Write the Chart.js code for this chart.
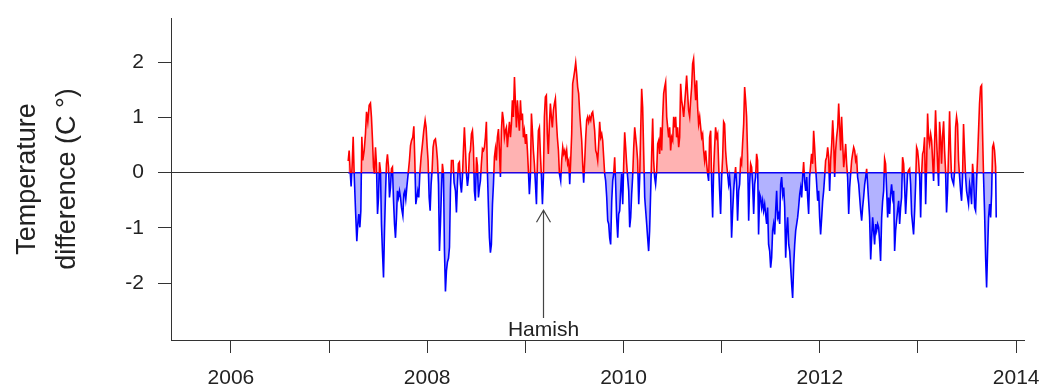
<!DOCTYPE html>
<html>
<head>
<meta charset="utf-8">
<title>Temperature difference</title>
<script src="https://cdn.jsdelivr.net/npm/chart.js@4/dist/chart.umd.min.js"></script>
<style>
  html, body { margin: 0; padding: 0; background: #ffffff; }
  #wrap { width: 1045px; height: 389px; }
  canvas { display: block; }
</style>
</head>
<body>
<div id="wrap"><canvas id="chart" width="1045" height="389"></canvas></div>
<script>
// Sample dates (decimal years) and temperature differences (°C)
const sampleYears = [
  2007.195, 2007.205, 2007.215, 2007.225, 2007.236, 2007.246, 2007.256, 2007.270, 2007.283, 2007.293,
  2007.303, 2007.314, 2007.324, 2007.334, 2007.344, 2007.358, 2007.371, 2007.382, 2007.395, 2007.409,
  2007.422, 2007.432, 2007.443, 2007.453, 2007.463, 2007.473, 2007.483, 2007.494, 2007.504, 2007.514,
  2007.524, 2007.534, 2007.544, 2007.555, 2007.565, 2007.575, 2007.585, 2007.595, 2007.606, 2007.616,
  2007.626, 2007.636, 2007.646, 2007.657, 2007.667, 2007.677, 2007.687, 2007.697, 2007.707, 2007.718,
  2007.728, 2007.738, 2007.752, 2007.762, 2007.772, 2007.782, 2007.792, 2007.806, 2007.819, 2007.830,
  2007.840, 2007.853, 2007.864, 2007.874, 2007.884, 2007.894, 2007.904, 2007.914, 2007.925, 2007.938,
  2007.952, 2007.965, 2007.979, 2007.989, 2007.999, 2008.009, 2008.020, 2008.030, 2008.040, 2008.050,
  2008.060, 2008.071, 2008.084, 2008.094, 2008.105, 2008.115, 2008.125, 2008.135, 2008.145, 2008.155,
  2008.166, 2008.176, 2008.186, 2008.196, 2008.206, 2008.217, 2008.227, 2008.237,
  2008.247, 2008.264, 2008.274, 2008.288, 2008.298, 2008.308, 2008.318, 2008.328, 2008.339, 2008.349,
  2008.359, 2008.369, 2008.379, 2008.390, 2008.400, 2008.410, 2008.420, 2008.430, 2008.440, 2008.451,
  2008.461, 2008.471, 2008.481, 2008.491, 2008.502, 2008.512, 2008.522, 2008.532, 2008.542, 2008.552,
  2008.563, 2008.573, 2008.583, 2008.593, 2008.603, 2008.614, 2008.624, 2008.634, 2008.644, 2008.654,
  2008.665, 2008.675, 2008.685, 2008.695, 2008.705, 2008.715, 2008.726, 2008.736, 2008.746, 2008.756,
  2008.766, 2008.777, 2008.787, 2008.797, 2008.807, 2008.817, 2008.827, 2008.838, 2008.848, 2008.858,
  2008.868, 2008.878, 2008.889, 2008.899, 2008.909, 2008.919, 2008.929, 2008.939, 2008.950, 2008.960,
  2008.970, 2008.980, 2008.990, 2009.001, 2009.011, 2009.021, 2009.031, 2009.041, 2009.051, 2009.062,
  2009.072, 2009.082, 2009.092, 2009.103, 2009.113, 2009.123, 2009.133, 2009.143, 2009.153, 2009.164,
  2009.174, 2009.184, 2009.194, 2009.204, 2009.214, 2009.224, 2009.234, 2009.245, 2009.255, 2009.265,
  2009.275, 2009.286, 2009.296, 2009.306, 2009.316, 2009.326, 2009.337, 2009.347,
  2009.360, 2009.370, 2009.381, 2009.391, 2009.401, 2009.411, 2009.421, 2009.431, 2009.442, 2009.452,
  2009.462, 2009.472, 2009.482, 2009.493, 2009.503, 2009.513, 2009.523, 2009.533, 2009.543, 2009.554,
  2009.564, 2009.574, 2009.584, 2009.594, 2009.605, 2009.615, 2009.625, 2009.635, 2009.645, 2009.655,
  2009.666, 2009.676, 2009.686, 2009.696, 2009.706, 2009.717, 2009.727, 2009.737, 2009.747, 2009.757,
  2009.768, 2009.778, 2009.788, 2009.798, 2009.808, 2009.818, 2009.829, 2009.839, 2009.849, 2009.859,
  2009.869, 2009.880, 2009.890, 2009.900, 2009.910, 2009.920, 2009.930, 2009.941, 2009.951, 2009.961,
  2009.971, 2009.981, 2009.992, 2010.002, 2010.012, 2010.022, 2010.032, 2010.042, 2010.053, 2010.063,
  2010.073, 2010.083, 2010.093, 2010.104, 2010.114, 2010.124, 2010.134, 2010.144, 2010.155, 2010.165,
  2010.175, 2010.185, 2010.195, 2010.205, 2010.216, 2010.226, 2010.236, 2010.246, 2010.256, 2010.266,
  2010.277, 2010.287, 2010.297, 2010.307, 2010.317, 2010.327, 2010.338, 2010.348, 2010.358, 2010.368,
  2010.378, 2010.389, 2010.399, 2010.409, 2010.419, 2010.429, 2010.440, 2010.450, 2010.460,
  2010.470, 2010.480, 2010.490, 2010.501, 2010.511, 2010.521, 2010.531, 2010.541, 2010.551, 2010.562,
  2010.572, 2010.582, 2010.592, 2010.602, 2010.613, 2010.623, 2010.633, 2010.643, 2010.653, 2010.663,
  2010.674, 2010.684, 2010.694, 2010.704, 2010.714, 2010.725, 2010.735, 2010.745, 2010.755, 2010.765,
  2010.776, 2010.786, 2010.796, 2010.806, 2010.816, 2010.826, 2010.837, 2010.847, 2010.857, 2010.867,
  2010.877, 2010.888, 2010.898, 2010.908, 2010.918, 2010.928, 2010.938, 2010.949, 2010.959, 2010.969,
  2010.979, 2010.989, 2011.000, 2011.010, 2011.020, 2011.030, 2011.040, 2011.050, 2011.061, 2011.071,
  2011.081, 2011.091, 2011.101, 2011.112, 2011.122, 2011.132, 2011.142, 2011.152, 2011.162, 2011.173,
  2011.183, 2011.193, 2011.203, 2011.213, 2011.224, 2011.234, 2011.244, 2011.254, 2011.264, 2011.275,
  2011.285, 2011.295, 2011.305, 2011.315, 2011.326, 2011.336, 2011.346, 2011.356, 2011.366, 2011.376,
  2011.387, 2011.397, 2011.407, 2011.417, 2011.427, 2011.438, 2011.448, 2011.458, 2011.468, 2011.478,
  2011.489, 2011.499, 2011.509, 2011.519, 2011.529, 2011.540, 2011.550, 2011.560, 2011.570, 2011.580,
  2011.591, 2011.601, 2011.611, 2011.622, 2011.632, 2011.642, 2011.652, 2011.662, 2011.672, 2011.683,
  2011.693, 2011.703, 2011.713, 2011.723, 2011.734, 2011.744, 2011.754, 2011.764, 2011.774, 2011.784,
  2011.795, 2011.805, 2011.815, 2011.825, 2011.835, 2011.845, 2011.856, 2011.866, 2011.876, 2011.886,
  2011.896, 2011.906, 2011.916, 2011.927, 2011.937, 2011.947, 2011.957, 2011.968, 2011.978, 2011.988,
  2011.998, 2012.008, 2012.019, 2012.029, 2012.039, 2012.049, 2012.059, 2012.070, 2012.080, 2012.090,
  2012.100, 2012.110, 2012.121, 2012.131, 2012.141, 2012.151, 2012.161, 2012.171, 2012.182, 2012.192,
  2012.202, 2012.212, 2012.222, 2012.233, 2012.243, 2012.253, 2012.263, 2012.273, 2012.283, 2012.294,
  2012.304, 2012.314, 2012.324, 2012.334, 2012.345, 2012.355, 2012.365, 2012.375, 2012.385, 2012.396,
  2012.406, 2012.416, 2012.426, 2012.436, 2012.446, 2012.457, 2012.467, 2012.477, 2012.487, 2012.497,
  2012.507, 2012.518, 2012.528, 2012.538, 2012.548, 2012.558, 2012.569, 2012.579, 2012.589, 2012.599,
  2012.609, 2012.619, 2012.630, 2012.640, 2012.650, 2012.660, 2012.670, 2012.681, 2012.691, 2012.701,
  2012.711, 2012.721, 2012.731, 2012.742, 2012.752, 2012.762, 2012.772, 2012.782, 2012.792, 2012.803,
  2012.813, 2012.823, 2012.833, 2012.843, 2012.854, 2012.864, 2012.874, 2012.884, 2012.894, 2012.904,
  2012.915, 2012.925, 2012.935, 2012.945, 2012.955, 2012.966, 2012.976, 2012.986, 2012.996, 2013.006,
  2013.017, 2013.027, 2013.037, 2013.047, 2013.057, 2013.067, 2013.078, 2013.088, 2013.098, 2013.108,
  2013.118, 2013.129, 2013.139, 2013.149, 2013.159, 2013.169, 2013.179, 2013.190, 2013.200, 2013.210,
  2013.220, 2013.230, 2013.240, 2013.250, 2013.261, 2013.271, 2013.281, 2013.291, 2013.301, 2013.312,
  2013.322, 2013.332, 2013.342, 2013.352, 2013.363, 2013.373, 2013.383, 2013.393, 2013.403, 2013.413,
  2013.424, 2013.434, 2013.444, 2013.454, 2013.464, 2013.474, 2013.485, 2013.495, 2013.505, 2013.515,
  2013.526, 2013.536, 2013.546, 2013.556, 2013.566, 2013.577, 2013.587, 2013.597, 2013.607, 2013.617,
  2013.627, 2013.638, 2013.648, 2013.658, 2013.668, 2013.678, 2013.689, 2013.699, 2013.709, 2013.719,
  2013.730, 2013.740, 2013.750, 2013.760, 2013.770, 2013.780, 2013.791, 2013.797
];

const tempDiff = [
  0.21, 0.40, 0.03, -0.25, 0.16, 0.65, -0.02, -0.69, -1.24, -0.93,
  -0.75, -0.99, -0.69, 0.65, 0.22, 0.40, 0.70, 1.10, 0.92, 1.22,
  1.26, 1.01, 0.58, 0.10, -0.02, 0.46, 0.16, -0.75, -0.45, 0.19,
  0.04, -0.93, -1.42, -1.90, -1.05, -0.39, 0.16, 0.33, 0.10, -0.45,
  -0.27, 0.07, 0.10, -0.51, -0.93, -1.18, -0.81, -0.33, -0.45, -0.33,
  -0.45, -0.63, -0.78, -0.39, -0.33, -0.48, -0.27, -0.02, 0.22, 0.49,
  0.58, 0.64, 0.84, 0.22, -0.57, -0.45, -0.33, -0.45, -0.02, 0.28,
  0.52, 0.76, 0.95, 0.82, 0.49, 0.22, -0.45, -0.69, -0.21, 0.04,
  0.46, 0.58, 0.61, 0.46, 0.22, -0.21, -1.42, -0.93, -0.33, 0.16,
  -0.02, -1.42, -2.15, -1.78, -1.62, -1.55, -1.35, -0.30,
  0.22, 0.22, -0.18, -0.33, -0.72, -0.21, 0.16, 0.19, -0.21, -0.36,
  -0.08, 0.40, 0.82, 0.40, -0.02, -0.24, -0.08, 0.34, 0.40, 0.70,
  0.76, 0.46, -0.33, -0.51, 0.28, 0.13, -0.45, -0.27, -0.15, 0.16,
  0.43, 0.40, 0.46, 0.64, 0.92, -0.02, -0.63, -1.18, -1.45, -1.30,
  -0.57, -0.21, 0.28, 0.43, 0.22, 0.64, 0.79, 0.40, -0.08, 0.76,
  1.10, 0.95, 0.64, 0.76, 0.82, 0.46, 0.70, 0.92, 0.64, 0.88,
  1.31, 1.01, 1.73, 1.25, 0.82, 1.31, 1.01, 0.76, 1.31, 0.95,
  1.07, 0.64, 0.76, 0.52, 0.70, 0.40, 0.04, -0.39, -0.08, 1.07,
  0.76, 0.40, 0.16, -0.21, -0.57, 0.22, 0.76, 0.82, 0.34, -0.08,
  -0.57, -0.08, 1.01, 1.37, 1.40, 0.70, 0.34, 0.88, 1.25, 1.01,
  0.82, 1.13, 1.25, 1.34, 0.95, 0.64, 0.40, -0.02,
  -0.15, 0.22, 0.46, 0.34, 0.40, 0.28, 0.40, 0.16, 0.22, -0.21,
  0.22, 0.70, 1.61, 1.73, 1.85, 1.99, 1.79, 1.55, 1.43, 1.07,
  0.82, 0.58, 0.16, -0.18, 0.22, 0.64, 0.95, 1.01, 0.92, 1.01,
  0.95, 1.07, 1.10, 0.95, 0.76, 0.40, 0.34, 0.22, 0.52, 0.92,
  0.64, 0.70, 0.58, 0.28, -0.02, -0.15, -0.45, -0.87, -0.93, -1.18,
  -1.30, -0.51, -0.15, -0.02, 0.28, -0.21, -0.81, -1.18, -0.75, -0.69,
  -0.33, -0.02, -0.57, 0.16, 0.73, 0.46, 0.16, -0.08, -0.33, -0.99,
  -0.81, -0.39, -0.08, 0.46, 0.82, 0.64, 0.46, 0.22, -0.57, -0.08,
  0.76, 1.52, 1.19, 0.40, -0.45, -0.69, -0.93, -1.18, -1.42, -1.05,
  -0.33, 0.34, 0.98, 0.22, -0.08, -0.21, 0.04, 0.52, 0.58, 0.34,
  0.82, 0.40, 1.01, 1.43, 1.55, 1.64, 1.01, 0.82, 0.64,
  0.82, 0.40, 0.64, 0.58, 1.01, 0.82, 1.01, 0.64, 0.82, 0.46,
  0.64, 1.61, 1.31, 1.19, 1.01, 1.25, 1.49, 1.76, 1.43, 1.13,
  1.01, 1.31, 1.55, 1.97, 2.06, 1.61, 1.31, 1.67, 1.19, 0.88,
  1.01, 0.82, 0.64, 0.70, 0.40, 0.22, 0.40, 0.16, -0.02, -0.15,
  0.64, 0.76, -0.21, -0.81, 0.04, 0.46, 0.82, 0.64, 0.70, 0.16,
  -0.33, -0.75, -0.08, 0.28, 0.92, 0.88, 0.40, 0.16, -0.02, -0.21,
  -0.08, -0.33, -1.18, -0.69, -0.33, -0.08, 0.10, -0.21, -0.87, -0.33,
  -0.21, 0.22, 0.16, 0.52, 0.88, 1.55, 1.31, 1.01, 0.34, -0.87,
  -0.21, 0.16, 0.10, -0.21, -0.75, -0.21, -0.08, 0.34, 0.22, -1.12,
  -0.39, -0.45, -0.63, -0.51, -0.69, -0.57, -0.75, -0.93, -0.63, -1.30,
  -1.42, -1.72, -1.54, -1.05, -0.93, -1.12, -0.69, -0.33, -0.81, -0.75,
  -0.93, -0.21, -0.08, -0.39, -0.27, -0.63, -1.54, -1.05, -0.81, -1.30,
  -1.42, -1.72, -2.02, -2.27, -1.66, -1.30, -1.05, -0.93, -0.81, -0.63,
  -0.39, -0.27, -0.45, -0.08, 0.19, -0.15, -0.33, -0.08, -0.45, -0.75,
  -0.08, 0.13, 0.34, 0.16, 0.76, 0.46, 0.10, -0.21, -0.51, -0.33,
  -0.81, -1.12, -0.81, -0.51, -0.33, -0.08, 0.22, 0.28, 0.46, 0.28,
  -0.33, 0.22, 0.52, 0.95, 0.58, -0.08, 0.40, 0.64, 0.82, 1.25,
  0.82, 0.40, 1.01, 0.52, 0.10, 0.28, 0.52, 0.16, -0.08, -0.75,
  -0.27, -0.02, 0.22, 0.34, 0.46, 0.40, 0.22, 0.28, -0.08, -0.21,
  -0.45, -0.69, -0.87, -0.63, -0.45, -0.21, -0.08, 0.07, -0.21, -0.51,
  -0.81, -1.57, -1.18, -0.81, -1.05, -1.30, -0.93, -1.05, -0.93, -0.99,
  -1.24, -1.60, -0.81, -0.51, -0.33, 0.25, 0.16, -0.33, -0.81, -0.45,
  -0.75, -0.39, -0.21, -0.45, -0.33, -1.42, -1.05, -0.87, -0.69, -0.51,
  -0.93, -0.63, -0.45, 0.28, 0.16, -0.27, -0.75, -0.39, -0.02, 0.04,
  0.07, -0.21, -0.75, -0.93, -1.12, -0.69, -0.21, 0.46, 0.40, 0.22,
  -0.08, -0.81, -0.02, 0.34, 0.40, 0.64, -0.57, 0.16, 1.07, 0.64,
  0.52, 0.70, 0.58, 0.22, -0.15, 0.52, 1.13, 0.58, 0.16, -0.24,
  0.92, 0.64, 0.16, 0.64, 0.93, 0.40, 0.04, -0.72, -0.33, 0.40,
  1.11, 0.40, -0.08, -0.15, -0.21, 0.04, 0.82, 1.01, 0.88, 0.22,
  -0.08, -0.33, -0.51, -0.08, 0.88, 0.40, -0.08, -0.33, -0.45, -0.57,
  -0.21, -0.33, -0.57, 0.16, -0.08, -0.63, -0.69, -0.15, 0.28, 0.76,
  1.25, 1.55, 1.58, 0.70, -0.08, -0.69, -1.54, -2.08, -1.42, -0.81,
  -0.57, -0.81, -0.39, 0.46, 0.52, 0.40, 0.10, -0.81
];

// Axis ticks
const yTickValues = [-2, -1, 0, 1, 2];
const xTickYears = [2006, 2007, 2008, 2009, 2010, 2011, 2012, 2013, 2014];
const xLabelYears = [2006, 2008, 2010, 2012, 2014];

// Annotation: cyclone marker
const annotationText = 'Hamish';
const annotationYear = 2009.177;
const annotationTip = -0.68;
const annotationBase = -2.63;
const annotationLabelAt = -2.96;

const FONT = '"Liberation Sans", Arial, Helvetica, sans-serif';
const TEXT = '#222222';
const AXIS = '#333333';

const seriesPoints = sampleYears.map((yr, i) => ({ x: yr, y: tempDiff[i] }));
const baselinePoints = [
  { x: sampleYears[0], y: 0 },
  { x: sampleYears[sampleYears.length - 1], y: 0 }
];

// Red above zero, blue below: a hard-stop vertical gradient at y = 0
function signGradient(context) {
  const chart = context.chart;
  const area = chart.chartArea;
  if (!area || !chart.scales.y) return '#ff0000';
  const y0 = chart.scales.y.getPixelForValue(0);
  const g = chart.ctx.createLinearGradient(0, area.top, 0, area.bottom);
  const s = Math.min(1, Math.max(0, (y0 - area.top) / (area.bottom - area.top)));
  g.addColorStop(0, '#ff0000');
  g.addColorStop(s, '#ff0000');
  g.addColorStop(s, '#0000ff');
  g.addColorStop(1, '#0000ff');
  return g;
}

// Keep the plot box fixed: no extra room reserved for edge tick labels
function noEdgePadding(scale) {
  scale.paddingTop = 0;
  scale.paddingBottom = 0;
  scale.paddingLeft = 0;
  scale.paddingRight = 0;
}

const annotationPlugin = {
  id: 'cycloneNote',
  afterDatasetsDraw(chart) {
    const { ctx, scales: { x, y } } = chart;
    const px = Math.round(x.getPixelForValue(annotationYear)) + 0.5;
    const tip = y.getPixelForValue(annotationTip);
    const base = y.getPixelForValue(annotationBase);
    ctx.save();
    ctx.strokeStyle = '#444444';
    ctx.lineWidth = 1.2;
    ctx.beginPath();
    ctx.moveTo(px, base);
    ctx.lineTo(px, tip);
    ctx.moveTo(px - 7, tip + 12);
    ctx.lineTo(px, tip);
    ctx.lineTo(px + 7, tip + 12);
    ctx.stroke();
    ctx.fillStyle = TEXT;
    ctx.font = '21px ' + FONT;
    ctx.textAlign = 'center';
    ctx.textBaseline = 'alphabetic';
    ctx.fillText(annotationText, px, y.getPixelForValue(annotationLabelAt));
    ctx.restore();
  }
};

new Chart(document.getElementById('chart'), {
  type: 'line',
  data: {
    datasets: [
      {
        label: 'Temperature difference',
        data: seriesPoints,
        borderColor: signGradient,
        borderWidth: 1.6,
        pointRadius: 0,
        tension: 0,
        fill: { target: { value: 0 }, above: 'rgba(255,0,0,0.3)', below: 'rgba(0,0,255,0.3)' }
      },
      {
        label: 'Baseline',
        data: baselinePoints,
        borderColor: '#0000ff',
        borderWidth: 1.5,
        pointRadius: 0,
        fill: false
      }
    ]
  },
  options: {
    responsive: false,
    animation: false,
    devicePixelRatio: 1,
    layout: { padding: { top: 18, right: 21, left: 0, bottom: 0 } },
    plugins: {
      legend: { display: false },
      tooltip: { enabled: false }
    },
    scales: {
      x: {
        type: 'linear',
        min: 2005.39,
        max: 2014.08,
        afterBuildTicks: (scale) => { scale.ticks = xTickYears.map(v => ({ value: v })); },
        afterFit: (scale) => { scale.height = 49; noEdgePadding(scale); },
        grid: {
          drawOnChartArea: false,
          drawTicks: true,
          tickLength: 13,
          tickColor: AXIS,
          tickWidth: 1
        },
        border: { display: true, color: AXIS, width: 1 },
        ticks: {
          autoSkip: false,
          maxRotation: 0,
          padding: 13,
          color: TEXT,
          font: { family: FONT, size: 21 },
          callback: (v) => xLabelYears.includes(v) ? String(v) : ''
        }
      },
      y: {
        type: 'linear',
        min: -3.03,
        max: 2.8,
        afterBuildTicks: (scale) => { scale.ticks = yTickValues.map(v => ({ value: v })); },
        afterFit: (scale) => { scale.width = 171; noEdgePadding(scale); },
        grid: {
          drawOnChartArea: true,
          color: (ctx) => (ctx.tick && ctx.tick.value === 0) ? AXIS : 'rgba(0,0,0,0)',
          lineWidth: 1,
          drawTicks: true,
          tickLength: 13,
          tickColor: AXIS,
          tickWidth: 1
        },
        border: { display: true, color: AXIS, width: 1 },
        ticks: {
          padding: 14,
          color: TEXT,
          font: { family: FONT, size: 21 },
          callback: (v) => String(v)
        },
        title: {
          display: true,
          text: ['Temperature', 'difference (C \u00b0)'],
          color: TEXT,
          font: { family: FONT, size: 27, lineHeight: 1.48 },
          padding: { top: 8, bottom: 0 }
        }
      }
    }
  },
  plugins: [annotationPlugin]
});
</script>
</body>
</html>
